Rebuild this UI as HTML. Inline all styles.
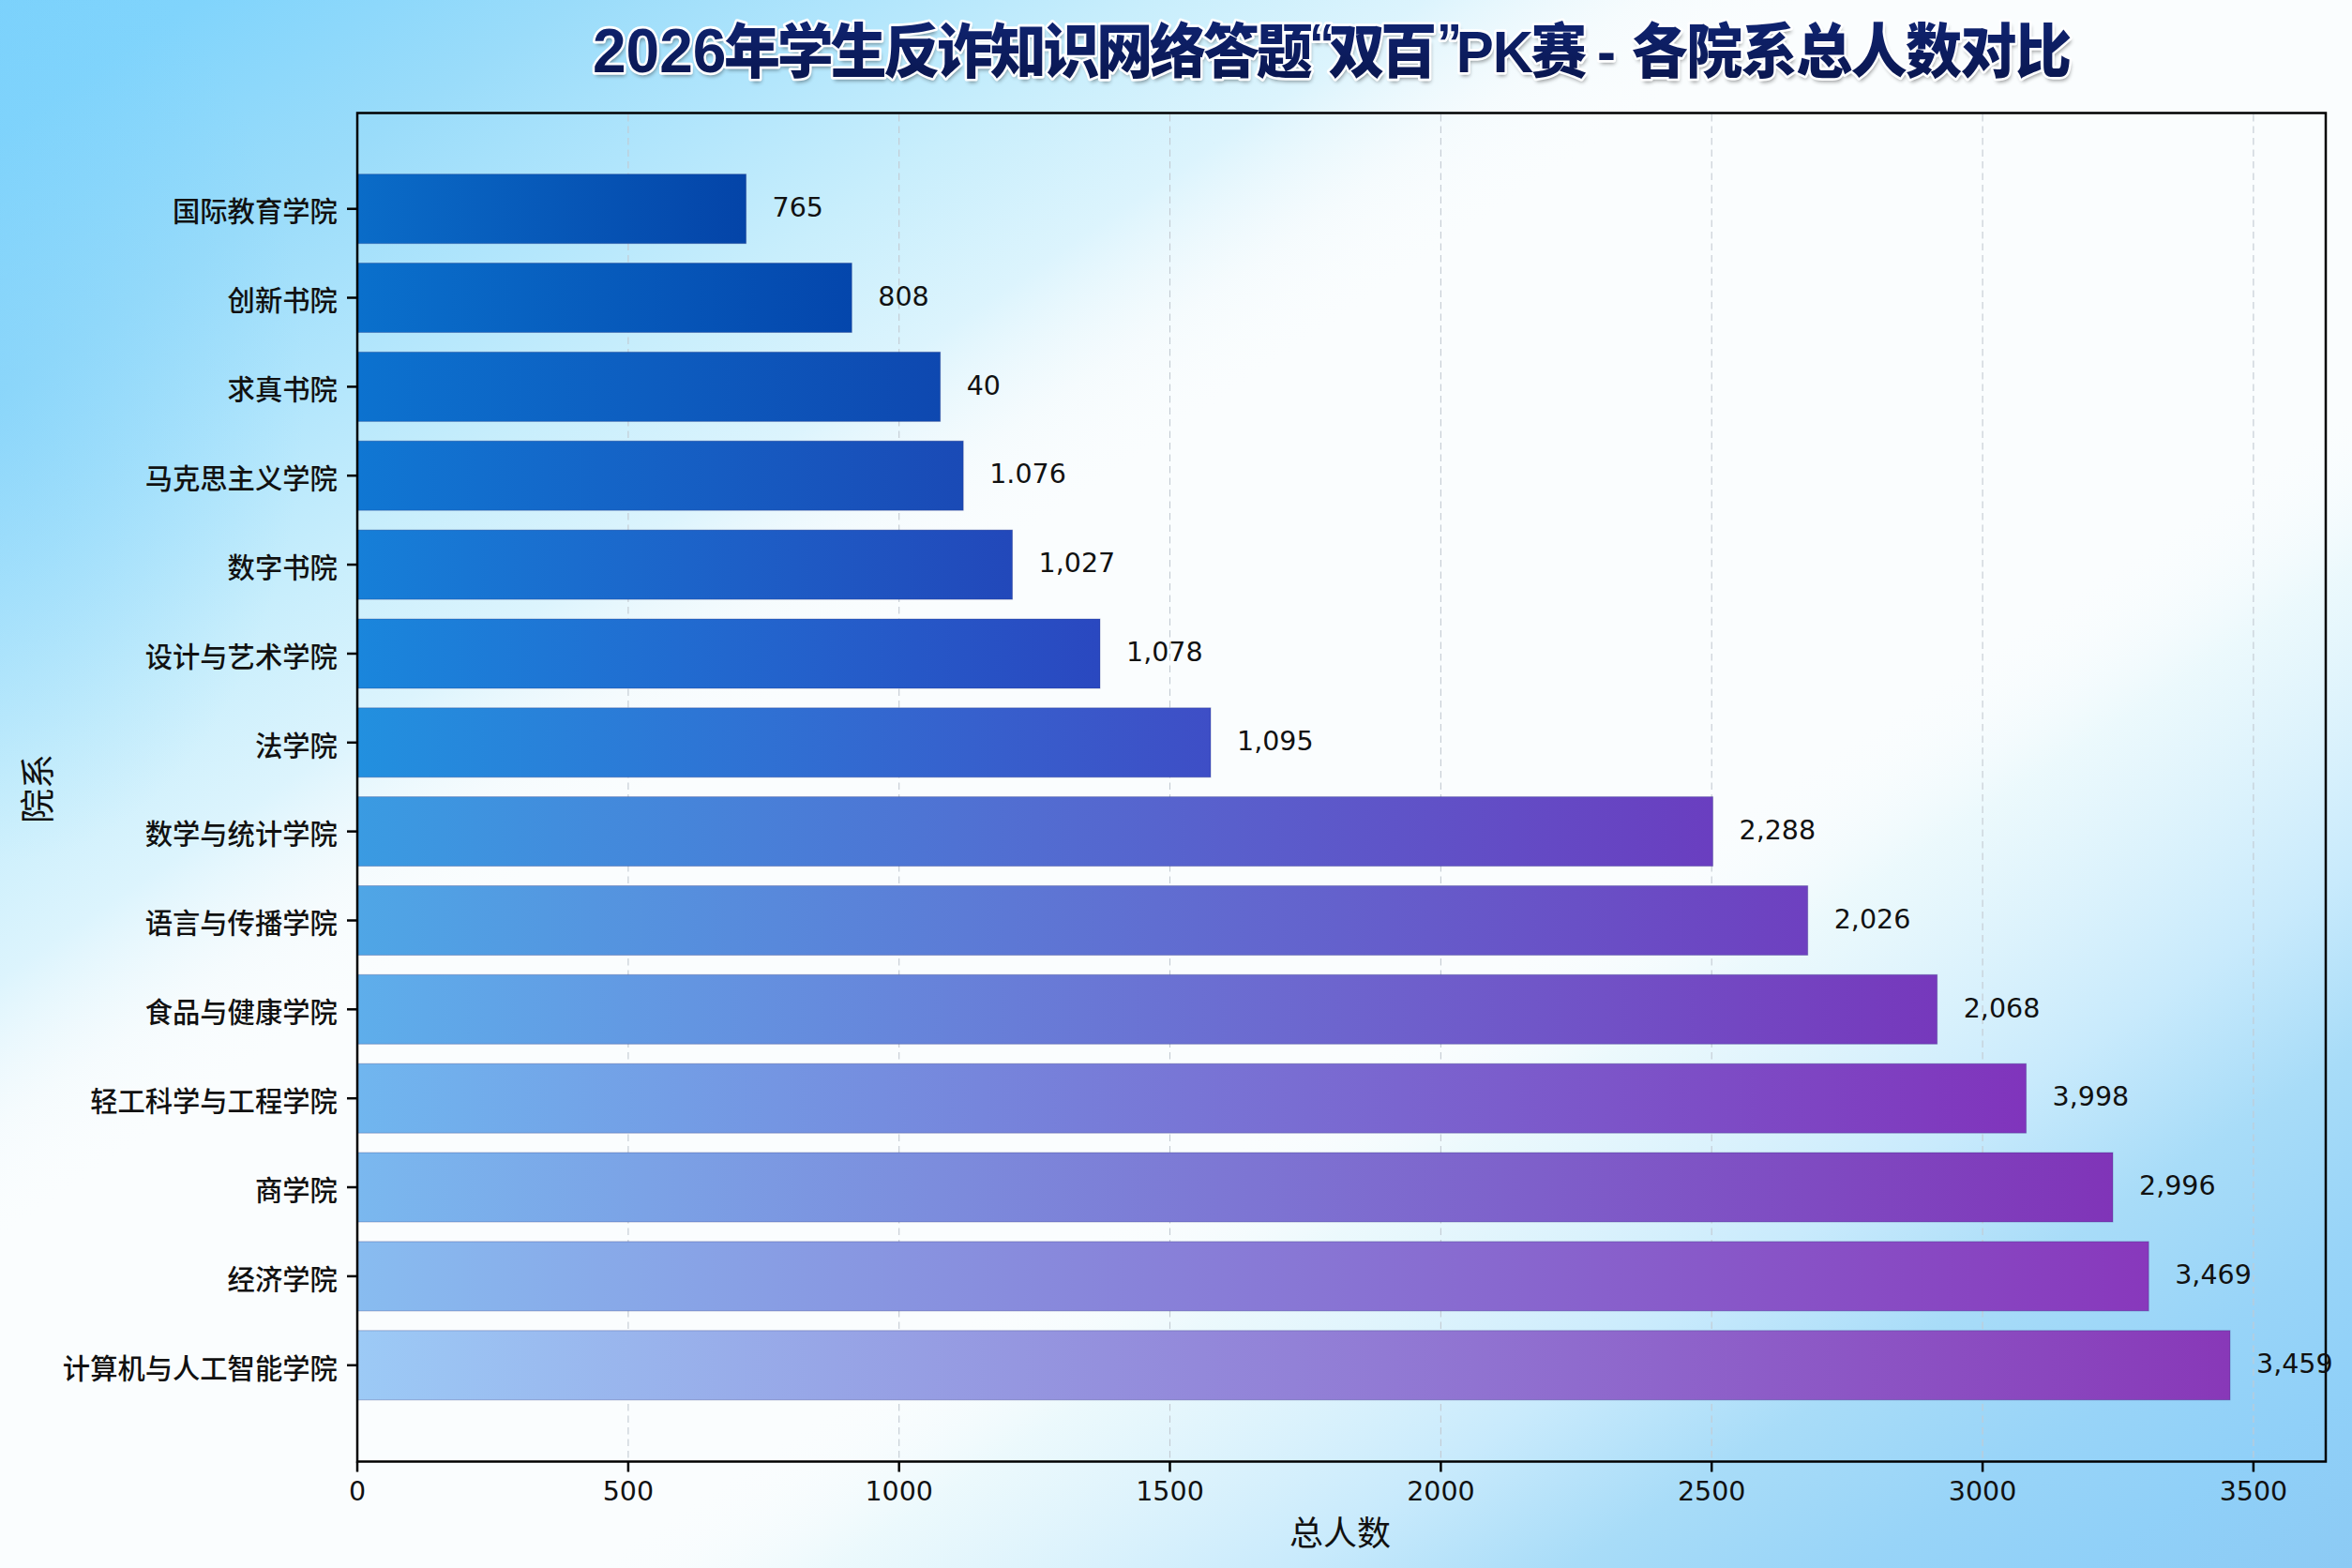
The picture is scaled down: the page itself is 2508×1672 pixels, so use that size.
<!DOCTYPE html>
<html><head><meta charset="utf-8"><title>各院系总人数对比</title>
<style>
html,body{margin:0;padding:0;}
body{width:2508px;height:1672px;overflow:hidden;position:relative;
background:#fafdfe;
font-family:"Liberation Sans","Noto Sans CJK SC",sans-serif;}
svg{position:absolute;left:0;top:0;}
text{-webkit-font-smoothing:antialiased;}
.yl{font-family:"Liberation Sans","Noto Sans CJK SC",sans-serif;font-size:29.3px;font-weight:500;fill:#111;}
.num{font-family:"DejaVu Sans","Liberation Sans",sans-serif;font-size:28.5px;fill:#111;}
.ax{font-family:"Liberation Sans","Noto Sans CJK SC",sans-serif;fill:#111;}
.ttl{font-family:"Liberation Sans","Noto Sans CJK SC",sans-serif;font-weight:900;font-size:60px;}
.q{font-family:"Liberation Sans",sans-serif;font-size:54px;}
</style></head><body>
<svg width="2508" height="1672" viewBox="0 0 2508 1672">
<defs>
<filter id="sh" x="-5%" y="-30%" width="110%" height="160%"><feGaussianBlur stdDeviation="2.2"/></filter>
<linearGradient id="bgTL" gradientUnits="userSpaceOnUse" x1="0" y1="0" x2="615.7" y2="897.9">
<stop offset="0" stop-color="#7cd2fc"/><stop offset="0.109" stop-color="#80d4fc"/><stop offset="0.318" stop-color="#9adcfa"/><stop offset="0.473" stop-color="#b0e5fc"/><stop offset="0.636" stop-color="#c8eefc"/><stop offset="0.79" stop-color="#dcf4fd"/><stop offset="0.909" stop-color="#f2fafd" stop-opacity="0.6"/><stop offset="1" stop-color="#f8fcfe" stop-opacity="0"/></linearGradient>
<linearGradient id="bgBR" gradientUnits="userSpaceOnUse" x1="2508" y1="1672" x2="1941.6" y2="809.8">
<stop offset="0" stop-color="#8ccaf4"/><stop offset="0.155" stop-color="#90d0f8"/><stop offset="0.282" stop-color="#98d4f8"/><stop offset="0.445" stop-color="#a8dcf8"/><stop offset="0.6" stop-color="#c8eafc"/><stop offset="0.864" stop-color="#e8f8fc" stop-opacity="0.8"/><stop offset="1" stop-color="#f8fcfe" stop-opacity="0"/></linearGradient>
<radialGradient id="bgL" gradientUnits="userSpaceOnUse" cx="0" cy="420" r="500" gradientTransform="translate(0,420) scale(0.65,1) translate(0,-420)">
<stop offset="0" stop-color="#78cefa" stop-opacity="0.45"/><stop offset="1" stop-color="#78cefa" stop-opacity="0"/></radialGradient>
<linearGradient id="tg" x1="0" y1="0" x2="0" y2="1"><stop offset="0" stop-color="#102574"/><stop offset="1" stop-color="#09154c"/></linearGradient>
<linearGradient id="g0" x1="0" y1="0" x2="1" y2="0"><stop offset="0" stop-color="#0a6cc8"/><stop offset="1" stop-color="#0444a8"/></linearGradient>
<linearGradient id="g1" x1="0" y1="0" x2="1" y2="0"><stop offset="0" stop-color="#0a70cc"/><stop offset="1" stop-color="#0446ac"/></linearGradient>
<linearGradient id="g2" x1="0" y1="0" x2="1" y2="0"><stop offset="0" stop-color="#0c72cf"/><stop offset="1" stop-color="#0e48b0"/></linearGradient>
<linearGradient id="g3" x1="0" y1="0" x2="1" y2="0"><stop offset="0" stop-color="#1077d3"/><stop offset="1" stop-color="#1a4ab6"/></linearGradient>
<linearGradient id="g4" x1="0" y1="0" x2="1" y2="0"><stop offset="0" stop-color="#167fd8"/><stop offset="1" stop-color="#2248ba"/></linearGradient>
<linearGradient id="g5" x1="0" y1="0" x2="1" y2="0"><stop offset="0" stop-color="#1a86dc"/><stop offset="1" stop-color="#2a48c0"/></linearGradient>
<linearGradient id="g6" x1="0" y1="0" x2="1" y2="0"><stop offset="0" stop-color="#2290df"/><stop offset="1" stop-color="#3e4ec6"/></linearGradient>
<linearGradient id="g7" x1="0" y1="0" x2="1" y2="0"><stop offset="0" stop-color="#3a9be2"/><stop offset="1" stop-color="#6a3ec0"/></linearGradient>
<linearGradient id="g8" x1="0" y1="0" x2="1" y2="0"><stop offset="0" stop-color="#4fa6e6"/><stop offset="1" stop-color="#6e40c0"/></linearGradient>
<linearGradient id="g9" x1="0" y1="0" x2="1" y2="0"><stop offset="0" stop-color="#5eaeeb"/><stop offset="1" stop-color="#7638bc"/></linearGradient>
<linearGradient id="g10" x1="0" y1="0" x2="1" y2="0"><stop offset="0" stop-color="#70b6ef"/><stop offset="1" stop-color="#8034bc"/></linearGradient>
<linearGradient id="g11" x1="0" y1="0" x2="1" y2="0"><stop offset="0" stop-color="#7ab8ef"/><stop offset="1" stop-color="#8034b8"/></linearGradient>
<linearGradient id="g12" x1="0" y1="0" x2="1" y2="0"><stop offset="0" stop-color="#88bcf0"/><stop offset="1" stop-color="#8838bc"/></linearGradient>
<linearGradient id="g13" x1="0" y1="0" x2="1" y2="0"><stop offset="0" stop-color="#9ccaf6"/><stop offset="1" stop-color="#8838b8"/></linearGradient>
</defs>
<rect width="2508" height="1672" fill="#fafdfe"/><rect width="2508" height="1672" fill="url(#bgTL)"/><rect width="2508" height="1672" fill="url(#bgBR)"/><rect width="2508" height="1672" fill="url(#bgL)"/>
<line x1="669.9" y1="122.0" x2="669.9" y2="1557.5" stroke="#c3cad2" stroke-width="1.1" stroke-dasharray="7.5 5"/>
<line x1="958.7" y1="122.0" x2="958.7" y2="1557.5" stroke="#c3cad2" stroke-width="1.1" stroke-dasharray="7.5 5"/>
<line x1="1247.5" y1="122.0" x2="1247.5" y2="1557.5" stroke="#c3cad2" stroke-width="1.1" stroke-dasharray="7.5 5"/>
<line x1="1536.4" y1="122.0" x2="1536.4" y2="1557.5" stroke="#c3cad2" stroke-width="1.1" stroke-dasharray="7.5 5"/>
<line x1="1825.2" y1="122.0" x2="1825.2" y2="1557.5" stroke="#c3cad2" stroke-width="1.1" stroke-dasharray="7.5 5"/>
<line x1="2114.1" y1="122.0" x2="2114.1" y2="1557.5" stroke="#c3cad2" stroke-width="1.1" stroke-dasharray="7.5 5"/>
<line x1="2402.9" y1="122.0" x2="2402.9" y2="1557.5" stroke="#c3cad2" stroke-width="1.1" stroke-dasharray="7.5 5"/>
<rect x="381.0" y="185.7" width="414.6" height="74.0" fill="url(#g0)" stroke="#283078" stroke-opacity="0.3" stroke-width="1"/>
<rect x="381.0" y="280.5" width="527.3" height="74.0" fill="url(#g1)" stroke="#283078" stroke-opacity="0.3" stroke-width="1"/>
<rect x="381.0" y="375.4" width="621.7" height="74.0" fill="url(#g2)" stroke="#283078" stroke-opacity="0.3" stroke-width="1"/>
<rect x="381.0" y="470.2" width="646.2" height="74.0" fill="url(#g3)" stroke="#283078" stroke-opacity="0.3" stroke-width="1"/>
<rect x="381.0" y="565.1" width="698.6" height="74.0" fill="url(#g4)" stroke="#283078" stroke-opacity="0.3" stroke-width="1"/>
<rect x="381.0" y="660.0" width="792.0" height="74.0" fill="url(#g5)" stroke="#283078" stroke-opacity="0.3" stroke-width="1"/>
<rect x="381.0" y="754.8" width="910.0" height="74.0" fill="url(#g6)" stroke="#283078" stroke-opacity="0.3" stroke-width="1"/>
<rect x="381.0" y="849.6" width="1445.5" height="74.0" fill="url(#g7)" stroke="#283078" stroke-opacity="0.3" stroke-width="1"/>
<rect x="381.0" y="944.5" width="1546.7" height="74.0" fill="url(#g8)" stroke="#283078" stroke-opacity="0.3" stroke-width="1"/>
<rect x="381.0" y="1039.3" width="1684.7" height="74.0" fill="url(#g9)" stroke="#283078" stroke-opacity="0.3" stroke-width="1"/>
<rect x="381.0" y="1134.2" width="1779.6" height="74.0" fill="url(#g10)" stroke="#283078" stroke-opacity="0.3" stroke-width="1"/>
<rect x="381.0" y="1229.0" width="1872.0" height="74.0" fill="url(#g11)" stroke="#283078" stroke-opacity="0.3" stroke-width="1"/>
<rect x="381.0" y="1323.9" width="1910.2" height="74.0" fill="url(#g12)" stroke="#283078" stroke-opacity="0.3" stroke-width="1"/>
<rect x="381.0" y="1418.8" width="1997.0" height="74.0" fill="url(#g13)" stroke="#283078" stroke-opacity="0.3" stroke-width="1"/>
<rect x="381.0" y="120.5" width="2099.0" height="1438.0" fill="none" stroke="#000" stroke-width="2.5"/>
<line x1="370.0" y1="222.7" x2="381.0" y2="222.7" stroke="#000" stroke-width="2.5"/>
<text class="yl" x="359.8" y="236.4" text-anchor="end">国际教育学院</text>
<text class="num" x="823.6" y="230.9">765</text>
<line x1="370.0" y1="317.5" x2="381.0" y2="317.5" stroke="#000" stroke-width="2.5"/>
<text class="yl" x="359.8" y="331.2" text-anchor="end">创新书院</text>
<text class="num" x="936.3" y="325.7">808</text>
<line x1="370.0" y1="412.4" x2="381.0" y2="412.4" stroke="#000" stroke-width="2.5"/>
<text class="yl" x="359.8" y="426.1" text-anchor="end">求真书院</text>
<text class="num" x="1030.7" y="420.6">40</text>
<line x1="370.0" y1="507.2" x2="381.0" y2="507.2" stroke="#000" stroke-width="2.5"/>
<text class="yl" x="359.8" y="520.9" text-anchor="end">马克思主义学院</text>
<text class="num" x="1055.2" y="515.4">1.076</text>
<line x1="370.0" y1="602.1" x2="381.0" y2="602.1" stroke="#000" stroke-width="2.5"/>
<text class="yl" x="359.8" y="615.8" text-anchor="end">数字书院</text>
<text class="num" x="1107.6" y="610.3">1,027</text>
<line x1="370.0" y1="697.0" x2="381.0" y2="697.0" stroke="#000" stroke-width="2.5"/>
<text class="yl" x="359.8" y="710.7" text-anchor="end">设计与艺术学院</text>
<text class="num" x="1201.0" y="705.2">1,078</text>
<line x1="370.0" y1="791.8" x2="381.0" y2="791.8" stroke="#000" stroke-width="2.5"/>
<text class="yl" x="359.8" y="805.5" text-anchor="end">法学院</text>
<text class="num" x="1319.0" y="800.0">1,095</text>
<line x1="370.0" y1="886.6" x2="381.0" y2="886.6" stroke="#000" stroke-width="2.5"/>
<text class="yl" x="359.8" y="900.3" text-anchor="end">数学与统计学院</text>
<text class="num" x="1854.5" y="894.8">2,288</text>
<line x1="370.0" y1="981.5" x2="381.0" y2="981.5" stroke="#000" stroke-width="2.5"/>
<text class="yl" x="359.8" y="995.2" text-anchor="end">语言与传播学院</text>
<text class="num" x="1955.7" y="989.7">2,026</text>
<line x1="370.0" y1="1076.3" x2="381.0" y2="1076.3" stroke="#000" stroke-width="2.5"/>
<text class="yl" x="359.8" y="1090.0" text-anchor="end">食品与健康学院</text>
<text class="num" x="2093.7" y="1084.5">2,068</text>
<line x1="370.0" y1="1171.2" x2="381.0" y2="1171.2" stroke="#000" stroke-width="2.5"/>
<text class="yl" x="359.8" y="1184.9" text-anchor="end">轻工科学与工程学院</text>
<text class="num" x="2188.6" y="1179.4">3,998</text>
<line x1="370.0" y1="1266.0" x2="381.0" y2="1266.0" stroke="#000" stroke-width="2.5"/>
<text class="yl" x="359.8" y="1279.8" text-anchor="end">商学院</text>
<text class="num" x="2281.0" y="1274.2">2,996</text>
<line x1="370.0" y1="1360.9" x2="381.0" y2="1360.9" stroke="#000" stroke-width="2.5"/>
<text class="yl" x="359.8" y="1374.6" text-anchor="end">经济学院</text>
<text class="num" x="2319.2" y="1369.1">3,469</text>
<line x1="370.0" y1="1455.8" x2="381.0" y2="1455.8" stroke="#000" stroke-width="2.5"/>
<text class="yl" x="359.8" y="1469.5" text-anchor="end">计算机与人工智能学院</text>
<text class="num" x="2406.0" y="1464.0">3,459</text>
<line x1="381.0" y1="1558.5" x2="381.0" y2="1569.5" stroke="#000" stroke-width="2.5"/>
<text class="num" x="381.0" y="1599.5" text-anchor="middle">0</text>
<line x1="669.9" y1="1558.5" x2="669.9" y2="1569.5" stroke="#000" stroke-width="2.5"/>
<text class="num" x="669.9" y="1599.5" text-anchor="middle">500</text>
<line x1="958.7" y1="1558.5" x2="958.7" y2="1569.5" stroke="#000" stroke-width="2.5"/>
<text class="num" x="958.7" y="1599.5" text-anchor="middle">1000</text>
<line x1="1247.5" y1="1558.5" x2="1247.5" y2="1569.5" stroke="#000" stroke-width="2.5"/>
<text class="num" x="1247.5" y="1599.5" text-anchor="middle">1500</text>
<line x1="1536.4" y1="1558.5" x2="1536.4" y2="1569.5" stroke="#000" stroke-width="2.5"/>
<text class="num" x="1536.4" y="1599.5" text-anchor="middle">2000</text>
<line x1="1825.2" y1="1558.5" x2="1825.2" y2="1569.5" stroke="#000" stroke-width="2.5"/>
<text class="num" x="1825.2" y="1599.5" text-anchor="middle">2500</text>
<line x1="2114.1" y1="1558.5" x2="2114.1" y2="1569.5" stroke="#000" stroke-width="2.5"/>
<text class="num" x="2114.1" y="1599.5" text-anchor="middle">3000</text>
<line x1="2402.9" y1="1558.5" x2="2402.9" y2="1569.5" stroke="#000" stroke-width="2.5"/>
<text class="num" x="2402.9" y="1599.5" text-anchor="middle">3500</text>
<text class="ax" x="1429" y="1647.6" text-anchor="middle" style="font-size:36px;">总人数</text>
<text class="ax" transform="translate(53.9,841) rotate(-90)" text-anchor="middle" style="font-size:37px;">院系</text>
<g transform="translate(0,77.4) scale(1,1.05)"><text class="ttl" y="0" fill="#000" opacity="0.4" filter="url(#sh)" transform="translate(1.5,3.5)"><tspan x="632" font-size="64">2026</tspan><tspan x="771.9" letter-spacing="-3.2">年学生反诈知识网络答题</tspan><tspan class="q" x="1396" dy="-10.5">“</tspan><tspan x="1416.8" dy="10.5" letter-spacing="-4.6">双百</tspan><tspan class="q" x="1532" dy="-10.5">”</tspan><tspan x="1552.8" dy="10.5" font-size="60" letter-spacing="-1">PK</tspan><tspan x="1632.2" letter-spacing="0">赛</tspan><tspan x="1703">-</tspan><tspan x="1739.7" letter-spacing="-1.5">各院系总人数对比</tspan></text>
<text class="ttl" y="0" fill="none" stroke="#fff" stroke-width="5" stroke-linejoin="round"><tspan x="632" font-size="64">2026</tspan><tspan x="771.9" letter-spacing="-3.2">年学生反诈知识网络答题</tspan><tspan class="q" x="1396" dy="-10.5">“</tspan><tspan x="1416.8" dy="10.5" letter-spacing="-4.6">双百</tspan><tspan class="q" x="1532" dy="-10.5">”</tspan><tspan x="1552.8" dy="10.5" font-size="60" letter-spacing="-1">PK</tspan><tspan x="1632.2" letter-spacing="0">赛</tspan><tspan x="1703">-</tspan><tspan x="1739.7" letter-spacing="-1.5">各院系总人数对比</tspan></text>
<text class="ttl" y="0" fill="url(#tg)"><tspan x="632" font-size="64">2026</tspan><tspan x="771.9" letter-spacing="-3.2">年学生反诈知识网络答题</tspan><tspan class="q" x="1396" dy="-10.5">“</tspan><tspan x="1416.8" dy="10.5" letter-spacing="-4.6">双百</tspan><tspan class="q" x="1532" dy="-10.5">”</tspan><tspan x="1552.8" dy="10.5" font-size="60" letter-spacing="-1">PK</tspan><tspan x="1632.2" letter-spacing="0">赛</tspan><tspan x="1703">-</tspan><tspan x="1739.7" letter-spacing="-1.5">各院系总人数对比</tspan></text>
</g>
</svg>
</body></html>
